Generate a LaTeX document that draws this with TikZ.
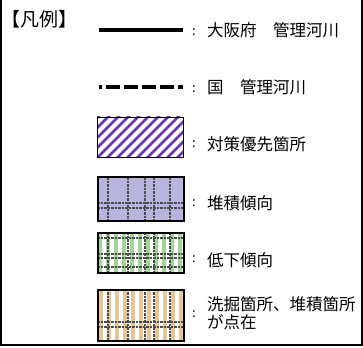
\documentclass[tikz,border=0pt]{standalone}
\usepackage{fontspec}
\setmainfont{Noto Sans CJK JP}
\definecolor{hatchpurple}{RGB}{105,55,175}
\definecolor{lavender}{RGB}{184,180,222}
\definecolor{stripegreen}{RGB}{160,215,150}
\definecolor{stripetan}{RGB}{232,196,150}
\begin{document}
\begin{tikzpicture}[x=1pt,y=-1pt,
  lbl/.style={anchor=west,inner sep=0pt,font=\fontsize{16.5}{18}\selectfont},
  colon/.style={inner sep=0pt,font=\fontsize{13}{15}\selectfont},
  gridln/.style={draw=black!70,line width=1.2pt,dash pattern=on 2.5pt off 1pt},
  legbox/.style={rectangle,draw=black,line width=1.8pt,inner sep=0pt,anchor=north west,minimum width=86pt},
  hatchc/.style={draw=hatchpurple,line width=2.8pt},
  greenst/.style={draw=stripegreen,line width=3.5pt},
  tanst/.style={draw=stripetan,line width=4pt},
]
\useasboundingbox (0,0) rectangle (363,347);
% frame
\draw[line width=2pt,line join=miter] (1,0) -- (1,345) -- (361.5,345) -- (361.5,0);
% title
\node[lbl,font=\fontsize{19}{21}\selectfont] (title) at (1.5,19) {【凡例】};
% line samples
\coordinate (s1) at (99,30); \coordinate (s2) at (183,30);
\draw[line width=4pt] (s1) -- (s2);
\coordinate (d1) at (99,87); \coordinate (d2) at (183,87);
\draw[line width=4pt,dash pattern=on 3pt off 4pt on 14pt off 4pt on 14pt off 4pt on 14pt off 4pt on 14pt off 4pt on 5pt] (d1) -- (d2);
% box 1 pattern
\begin{scope}
  \clip (97,117) rectangle (183,157);
  \foreach \x in {0,10,...,250} \draw[hatchc] (\x,165) -- ++(60,-60);
\end{scope}
% box 2 pattern
\begin{scope}
  \clip (97,176) rectangle (183,220);
  \fill[lavender] (97,176) rectangle (183,220);
  \foreach \x in {108,128,145,154,170} \draw[gridln] (\x,170) -- (\x,225);
  \foreach \y in {203,208} \draw[gridln] (90,\y) -- (190,\y);
\end{scope}
% box 3 pattern
\begin{scope}
  \clip (97,232) rectangle (183,272);
  \foreach \x in {100,108,...,184} \draw[greenst] (\x,225) -- (\x,280);
  \foreach \x in {108,128,145,154,170} \draw[gridln] (\x,225) -- (\x,280);
  \foreach \y in {238,254,258,267} \draw[gridln] (90,\y) -- (190,\y);
\end{scope}
% box 4 pattern
\begin{scope}
  \clip (97,289) rectangle (183,340);
  \foreach \x in {101,109,...,185} \draw[tanst] (\x,285) -- (\x,345);
  \foreach \x in {108,128,145,154,170} \draw[gridln] (\x,285) -- (\x,345);
  \foreach \y in {322,327} \draw[gridln] (90,\y) -- (190,\y);
\end{scope}
% box frames
\node[legbox,line width=1.4pt,minimum height=40pt] (b1) at (97,117) {};
\node[legbox,minimum height=44pt] (b2) at (97,176) {};
\node[legbox,minimum height=40pt] (b3) at (97,232) {};
\node[legbox,minimum height=51pt] (b4) at (97,289) {};
% colons
\node[colon] (c1) at (194,32) {:};
\node[colon] (c2) at (194,89) {:};
\node[colon] (c3) at (194,144) {:};
\node[colon] (c4) at (194,203) {:};
\node[colon] (c5) at (194,259) {:};
\node[colon] (c6) at (194,314) {:};
% labels
\node[lbl] (l1) at (207,30) {大阪府　管理河川};
\node[lbl] (l2) at (207,87) {国　管理河川};
\node[lbl] (l3) at (207,144) {対策優先箇所};
\node[lbl] (l4) at (207,203) {堆積傾向};
\node[lbl] (l5) at (207,260) {低下傾向};
\node[lbl,align=left] (l6) at (207,313) {洗掘箇所、堆積箇所\\が点在};
\end{tikzpicture}
\end{document}
